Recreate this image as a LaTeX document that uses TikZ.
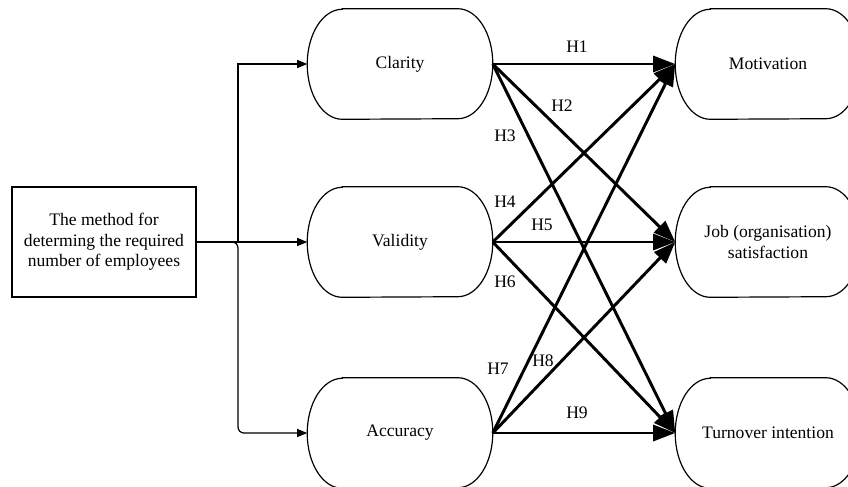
\documentclass[tikz,border=0pt]{standalone}
\usepackage{fontspec}
\setmainfont{Liberation Serif}
\usetikzlibrary{arrows.meta, positioning, calc}

\tikzset{
  % rounded stage boxes, outline drawn separately
  stage/.style={minimum width=4.625cm, minimum height=2.75cm, align=center, inner sep=0pt},
  link/.style={line width=0.85pt, -{Triangle[length=0.25cm, width=0.2cm]}},
  hyp/.style={line width=2.1pt, -{Triangle[length=0.55cm, width=0.4cm]}},
  hlabel/.style={inner sep=1pt}
}

\begin{document}
\begin{tikzpicture}[font=\fontsize{12.5}{14.6}\selectfont]
  \clip (0,0) rectangle (21.2,-12.15);
  \useasboundingbox (0,0) rectangle (21.2,-12.15);

  % Source box
  \node[draw, line width=0.85pt, minimum width=4.6cm, minimum height=2.75cm, align=center] (method) at (2.6,-6.05)
    {The method for\\determing the required\\number of employees};

  % Middle column
  \node[stage] (clarity)  at (10,-1.6)    {Clarity};
  \node[stage] (validity) at (10,-6.05)   {Validity};
  \node[stage] (accuracy) at (10,-10.825) {Accuracy};

  % Outcome column
  \node[stage] (motivation)   at (19.2,-1.6)    {Motivation};
  \node[stage] (satisfaction) at (19.2,-6.05)   {Job (organisation)\\satisfaction};
  \node[stage] (turnover)     at (19.2,-10.825) {Turnover intention};

  % Outlines with elliptic ends
  \foreach \n in {clarity, validity, accuracy, motivation, satisfaction, turnover} {
    \draw[line width=0.85pt] ([xshift=0.875cm]\n.north west) -- ([xshift=-0.875cm]\n.north east)
      arc[start angle=90, end angle=-90, x radius=0.875cm, y radius=1.375cm]
      -- ([xshift=0.875cm]\n.south west)
      arc[start angle=270, end angle=90, x radius=0.875cm, y radius=1.375cm] -- cycle;
  }

  % Branch point
  \coordinate (split) at (5.95,-6.05);

  \draw[link] (method.east) -- (split) |- (clarity.west);
  \draw[link] (method.east) -- (validity.west);
  \draw[link, rounded corners=0.15cm] (method.east) -- (split) |- (accuracy.west);

  % Hypothesised paths
  \foreach \s in {clarity, validity, accuracy}
    \foreach \t in {motivation, satisfaction, turnover}
      \draw[hyp] (\s.east) -- (\t.west);

  % Path labels
  \node[hlabel] (h1) at (14.425,-1.175)  {H1};
  \node[hlabel] (h2) at (14.05,-2.65)    {H2};
  \node[hlabel] (h3) at (12.625,-3.4)    {H3};
  \node[hlabel] (h4) at (12.625,-5.05)   {H4};
  \node[hlabel] (h5) at (13.55,-5.625)   {H5};
  \node[hlabel] (h6) at (12.625,-7.05)   {H6};
  \node[hlabel] (h7) at (12.45,-9.225)   {H7};
  \node[hlabel] (h8) at (13.575,-9.025)  {H8};
  \node[hlabel] (h9) at (14.425,-10.325) {H9};
\end{tikzpicture}
\end{document}
